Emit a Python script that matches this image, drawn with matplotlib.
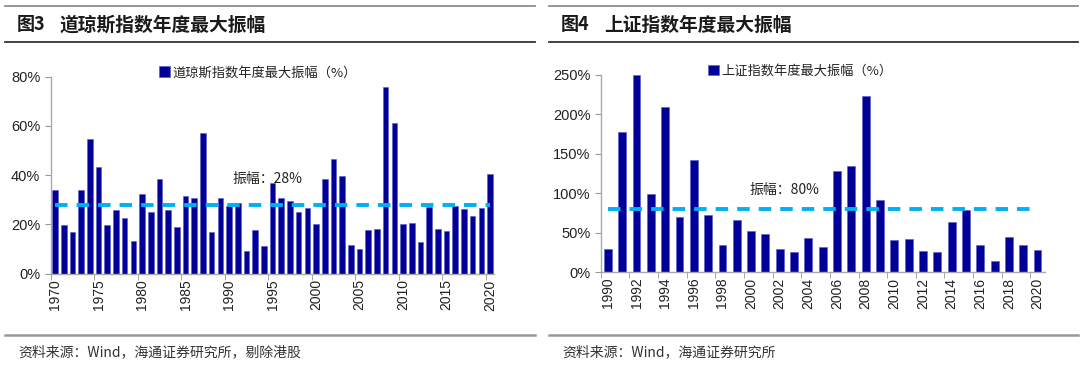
import numpy as np
import matplotlib
matplotlib.use("Agg")
import matplotlib.pyplot as plt
from matplotlib.ticker import FuncFormatter, FixedLocator

plt.rcParams['font.family'] = ['Liberation Sans', 'Noto Sans CJK SC', 'DejaVu Sans']
plt.rcParams['lines.scale_dashes'] = False

# --- Données ---
dj_years = list(range(1970, 2021))
dj_amp = [33.8, 19.6, 16.9, 33.8, 54.8, 43.4, 19.6, 25.8, 22.7, 13.3,
          32.2, 24.9, 38.3, 25.8, 18.9, 31.7, 30.7, 57.0, 16.8, 30.7,
          27.6, 28.8, 9.2, 17.6, 11.2, 36.8, 30.7, 29.6, 24.9, 26.5,
          20.3, 38.3, 46.4, 39.5, 11.8, 9.9, 17.9, 18.1, 76.0, 61.4,
          20.0, 20.6, 13.0, 26.9, 18.0, 17.3, 27.3, 26.4, 23.5, 26.7,
          40.3]
dj_avg = 28

sh_years = list(range(1990, 2021))
sh_amp = [29.6, 178, 250, 98.6, 210, 70.2, 142.6, 71.9, 33.8, 65.6,
          52.0, 48.6, 29.2, 25.0, 42.7, 31.3, 127.8, 134.1, 222.9, 91.4,
          40.2, 42.3, 26.6, 25.8, 63.9, 78.3, 34.7, 14.0, 44.4, 33.8,
          28.3]
sh_avg = 80

bar_color = '#000099'
line_color = '#00B0F0'
W, H = 1080, 366


def px_axes(fig, left, top, right, bottom):
    # conversion pixels -> fraction de figure
    return fig.add_axes([left / W, 1 - bottom / H, (right - left) / W, (bottom - top) / H])


def draw_panel(ax, years, values, avg, ymax, ystep, label_step, bar_width,
               legend_label, legend_x, note_x, note_y):
    idx = np.arange(len(years))
    ax.bar(idx, values, width=bar_width, color=bar_color, label=legend_label,
           edgecolor='#5a5ac8', linewidth=0.4)
    ax.plot([idx[0], idx[-1]], [avg, avg], color=line_color, lw=2.8,
            linestyle=(0, (9, 6.5)))
    ax.text(note_x, note_y, f'振幅：{avg}%', fontsize=10, color='#222222',
            ha='left', va='center', family=['Noto Sans CJK SC'])

    ax.set_xlim(-0.5, len(years) - 0.5)
    ax.set_ylim(0, ymax)
    ax.set_yticks(np.arange(0, ymax + 1, ystep))
    ax.yaxis.set_major_formatter(FuncFormatter(lambda v, p: f'{v:.0f}%'))

    lab_idx = idx[::label_step]
    ax.xaxis.set_major_locator(FixedLocator(lab_idx))
    ax.set_xticklabels([str(years[i]) for i in lab_idx], rotation=90)
    ax.xaxis.set_minor_locator(FixedLocator(lab_idx - 0.5))
    ax.tick_params(axis='x', which='major', length=0, pad=4, labelsize=10, colors='#222222')
    ax.tick_params(axis='x', which='minor', length=4, color='#999999')
    ax.tick_params(axis='y', length=4, color='#999999', labelsize=10.5, colors='#222222')

    for s in ['top', 'right']:
        ax.spines[s].set_visible(False)
    for s in ['left', 'bottom']:
        ax.spines[s].set_color('#aaaaaa')
        ax.spines[s].set_linewidth(1.0)

    leg = ax.legend(loc='center', bbox_to_anchor=(legend_x, 1.02), frameon=False,
                    handlelength=0.85, handleheight=0.85, handletextpad=0.2,
                    prop={'family': 'Noto Sans CJK SC', 'size': 9.5})
    for t in leg.get_texts():
        t.set_color('#222222')


fig = plt.figure(figsize=(W / 100, H / 100), dpi=100)

# --- Graphique gauche ---
ax1 = px_axes(fig, 50.7, 76.7, 494.4, 273.7)
draw_panel(ax1, dj_years, dj_amp, dj_avg, 80, 20, 5, 0.65,
           '道琼斯指数年度最大振幅（%）', 0.467, 20.4, 38.6)

# --- Graphique droit ---
ax2 = px_axes(fig, 600.7, 75, 1044.7, 272)
draw_panel(ax2, sh_years, sh_amp, sh_avg, 250, 50, 2, 0.55,
           '上证指数年度最大振幅（%）', 0.449, 9.9, 104)

# --- En-têtes et sources ---
for x0, x1, num, title, src in [(5, 535, '图3', '道琼斯指数年度最大振幅', '资料来源：Wind，海通证券研究所，剔除港股'),
                                (549, 1078, '图4', '上证指数年度最大振幅', '资料来源：Wind，海通证券研究所')]:
    fig.add_artist(plt.Line2D([x0 / W, x1 / W], [1 - 6 / H, 1 - 6 / H], color='#8c8c8c', lw=1.3))
    fig.add_artist(plt.Line2D([x0 / W, x1 / W], [1 - 42 / H, 1 - 42 / H], color='#333333', lw=1.3))
    fig.add_artist(plt.Line2D([x0 / W, x1 / W], [1 - 335 / H, 1 - 335 / H], color='#999999', lw=1.8))
    fig.text((x0 + 12) / W, 1 - 25 / H, num, fontsize=13, fontweight='bold',
             color='#1a1a1a', va='center', family=['Noto Sans CJK SC'])
    fig.text((x0 + 55) / W, 1 - 25 / H, title, fontsize=13.5, fontweight='bold',
             color='#1a1a1a', va='center', family=['Noto Sans CJK SC'])
    fig.text((x0 + 13) / W, 1 - 352 / H, src, fontsize=10, color='#333333',
             va='center', family=['Noto Sans CJK SC'])

fig.savefig('out.png', dpi=100, facecolor='white')
